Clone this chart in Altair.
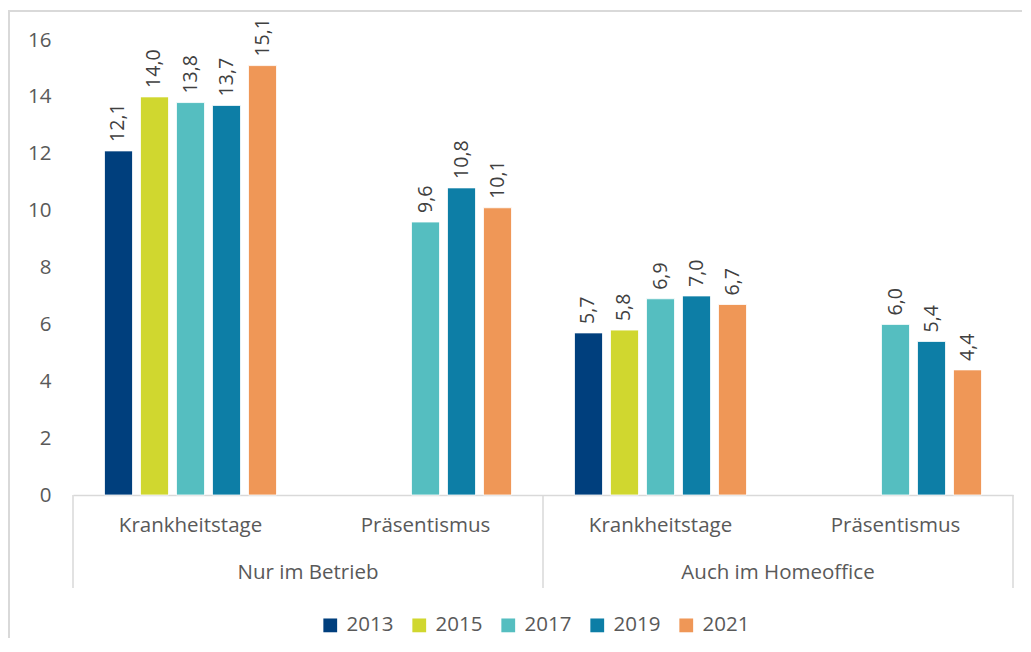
import altair as alt
import pandas as pd

groups = ["Nur im Betrieb", "Auch im Homeoffice"]
measures = ["Krankheitstage", "Präsentismus"]
years = ["2013", "2015", "2017", "2019", "2021"]
colors = ["#003f7d", "#d0d72f", "#55bec0", "#0d7ea6", "#ef9757"]

nur_krank = [12.1, 14.0, 13.8, 13.7, 15.1]
nur_praes = [None, None, 9.6, 10.8, 10.1]
auch_krank = [5.7, 5.8, 6.9, 7.0, 6.7]
auch_praes = [None, None, 6.0, 5.4, 4.4]

series = {
    (groups[0], measures[0]): nur_krank,
    (groups[0], measures[1]): nur_praes,
    (groups[1], measures[0]): auch_krank,
    (groups[1], measures[1]): auch_praes,
}

rows = []
keys = []
for g in groups:
    for m in measures:
        key = f"{g}|{m}"
        keys.append(key)
        for y, v in zip(years, series[(g, m)]):
            if v is not None:
                rows.append({"key": key, "group": g, "measure": m, "year": y,
                             "value": v, "label": f"{v:.1f}".replace(".", ",")})
df = pd.DataFrame(rows)

outer_df = pd.DataFrame({"group": groups, "key": [f"{g}|{measures[0]}" for g in groups]})

W, H = 940, 455
FONT = "Open Sans"
TXT = "#595959"
GRID = "#d9d9d9"
FS = 20.5

x_enc = alt.X("key:N", sort=keys,
              scale=alt.Scale(domain=keys, paddingInner=0.234, paddingOuter=0.117),
              axis=alt.Axis(title=None, labelExpr="split(datum.label, '|')[1]",
                            labelAngle=0, ticks=False, domainColor=GRID, domainWidth=1.5,
                            labelFontSize=FS, labelColor=TXT, labelFont=FONT,
                            labelPadding=20))
xoff_enc = alt.XOffset("year:N", scale=alt.Scale(domain=years, paddingInner=0.222,
                                                  paddingOuter=0.111))
y_enc = alt.Y("value:Q", scale=alt.Scale(domain=[0, 16], nice=False),
              axis=alt.Axis(title=None, values=list(range(0, 17, 2)), grid=False,
                            domain=False, ticks=False, labelFontSize=FS, labelColor=TXT,
                            labelFont=FONT, labelPadding=22))

bars = alt.Chart(df).mark_bar(stroke="white", strokeWidth=0.8).encode(
    x=x_enc, xOffset=xoff_enc, y=y_enc,
    color=alt.Color("year:N", scale=alt.Scale(domain=years, range=colors),
                    legend=alt.Legend(title=None, orient="none", legendX=247, legendY=575,
                                      direction="horizontal", symbolType="square",
                                      symbolSize=190, symbolStrokeWidth=0,
                                      labelFontSize=FS, labelColor=TXT, labelFont=FONT,
                                      labelOffset=6, columnPadding=15))
)

labels = alt.Chart(df).mark_text(angle=270, align="left", baseline="middle", dx=9,
                                 fontSize=19.5, color="#404040", font=FONT).encode(
    x=alt.X("key:N", sort=keys), xOffset="year:N", y="value:Q", text="label:N"
)

outer = alt.Chart(outer_df).mark_text(fontSize=FS, color=TXT, font=FONT,
                                      baseline="middle", dx=117.5).encode(
    x=alt.X("key:N", sort=keys), y=alt.value(H + 78), text="group:N"
)

sep_df = pd.DataFrame({"px": [0, W / 2, W]})
seps = alt.Chart(sep_df).mark_rule(color=GRID, strokeWidth=1.5).encode(
    x=alt.X("px:Q", scale=None), y=alt.value(H), y2=alt.value(H + 93)
)

border = alt.Chart(sep_df.head(1)).mark_rect(fill="transparent", stroke=GRID,
                                            strokeWidth=2).encode(
    x=alt.value(-64), x2=alt.value(W + 200), y=alt.value(-29), y2=alt.value(H + 300)
)

chart = alt.layer(border, bars, labels, outer, seps).properties(
    width=W, height=H,
    autosize=alt.AutoSizeParams(type="none"),
    padding={"left": 65, "top": 32, "right": 9, "bottom": 143},
).configure_view(stroke=None)

chart.save("out.html", embed_options={"renderer": "svg", "actions": False})
